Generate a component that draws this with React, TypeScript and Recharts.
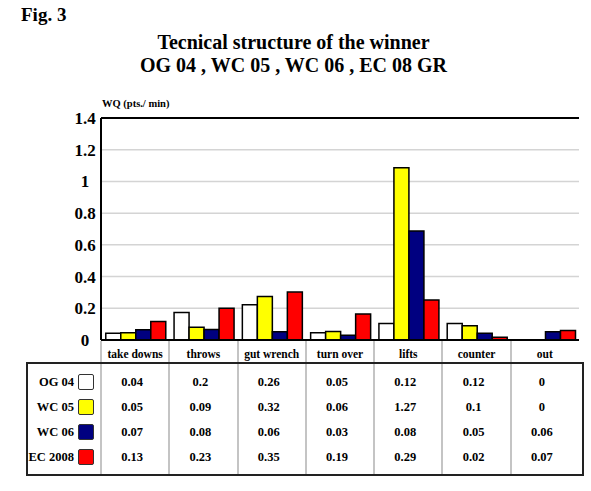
import { BarChart, Bar, XAxis, YAxis, CartesianGrid, ReferenceLine } from 'recharts';

const categories = ['take downs', 'throws', 'gut wrench', 'turn over', 'lifts', 'counter', 'out'];
const seriesNames = ['OG 04', 'WC 05', 'WC 06', 'EC 2008'];
const seriesColors = ['#ffffff', '#ffff00', '#000080', '#ff0000'];

// bar heights as drawn in the figure
const og04Bars = [0.042, 0.173, 0.223, 0.046, 0.104, 0.104, 0];
const wc05Bars = [0.046, 0.08, 0.275, 0.054, 1.087, 0.09, 0];
const wc06Bars = [0.064, 0.067, 0.052, 0.03, 0.688, 0.042, 0.052];
const ec08Bars = [0.117, 0.2, 0.302, 0.164, 0.252, 0.017, 0.06];

// values printed in the data table
const og04Table = ['0.04', '0.2', '0.26', '0.05', '0.12', '0.12', '0'];
const wc05Table = ['0.05', '0.09', '0.32', '0.06', '1.27', '0.1', '0'];
const wc06Table = ['0.07', '0.08', '0.06', '0.03', '0.08', '0.05', '0.06'];
const ec08Table = ['0.13', '0.23', '0.35', '0.19', '0.29', '0.02', '0.07'];

const yTicks = [0, 0.2, 0.4, 0.6, 0.8, 1, 1.2, 1.4];
const yTickLabels = ['0', '0.2', '0.4', '0.6', '0.8', '1', '1.2', '1.4'];

const data = categories.map((c, i) => ({
  name: c,
  og04: og04Bars[i],
  wc05: wc05Bars[i],
  wc06: wc06Bars[i],
  ec08: ec08Bars[i],
}));

const tableRows = [og04Table, wc05Table, wc06Table, ec08Table];
const seriesKeys = ['og04', 'wc05', 'wc06', 'ec08'];

const FONT = '"Liberation Serif", "Times New Roman", serif';
const PLOT_LEFT = 101;
const PLOT_RIGHT = 579;
const COL_W = (PLOT_RIGHT - PLOT_LEFT) / categories.length;

const YTick = ({ y, payload }: any) => {
  const idx = yTicks.indexOf(payload.value);
  return (
    <text x={85} y={y} dy={6} textAnchor="middle" fontSize={17} fontWeight="bold" fontFamily={FONT} fill="#000">
      {yTickLabels[idx] ?? payload.value}
    </text>
  );
};

const XTick = ({ x, y, payload }: any) => (
  <text x={x} y={y} dy={10} textAnchor="middle" fontSize={11.5} fontWeight="bold" fontFamily={FONT} fill="#000">
    {payload.value}
  </text>
);

export default function App() {
  return (
    <div style={{ position: 'absolute', left: 0, top: 0, width: 591, height: 491, background: '#fff', fontFamily: FONT }}>
      <div style={{ position: 'absolute', left: 21, top: 4, fontSize: 19, fontWeight: 'bold' }}>Fig. 3</div>
      <div style={{ position: 'absolute', left: 0, width: 591, top: 31, textAlign: 'center', fontSize: 20, fontWeight: 'bold', lineHeight: '23px', paddingLeft: 0 }}>
        <div style={{ marginLeft: -4 }}>Tecnical structure of the winner</div>
        <div style={{ marginLeft: -4 }}>OG 04 , WC 05 , WC 06 , EC 08 GR</div>
      </div>
      <div style={{ position: 'absolute', left: 102, top: 98, fontSize: 10.5, fontWeight: 'bold' }}>WQ (pts./ min)</div>

      <div style={{ position: 'absolute', left: 0, top: 0 }}>
        <BarChart
          width={591}
          height={363}
          data={data}
          margin={{ top: 118, right: 12, left: 41, bottom: 0 }}
          barCategoryGap="7%"
          barGap={0}
        >
          <CartesianGrid yAxisId="l" vertical={false} stroke="#d4d4d4" strokeWidth={1.5} />
          <XAxis
            dataKey="name"
            height={23}
            tick={<XTick />}
            tickLine={false}
            axisLine={{ stroke: '#000', strokeWidth: 2 }}
            interval={0}
          />
          <YAxis
            yAxisId="l"
            width={60}
            domain={[0, 1.4]}
            ticks={yTicks}
            tick={<YTick />}
            tickLine={false}
            axisLine={{ stroke: '#000', strokeWidth: 2 }}
            interval={0}
          />
          <YAxis yAxisId="r" orientation="right" width={0} domain={[0, 1.4]} tick={false} tickLine={false} axisLine={{ stroke: '#000', strokeWidth: 2 }} />
          <ReferenceLine yAxisId="l" y={1.4} stroke="#000" strokeWidth={2} />
          {seriesKeys.map((k, i) => (
            <Bar
              key={k}
              yAxisId="l"
              dataKey={k}
              name={seriesNames[i]}
              fill={seriesColors[i]}
              stroke="#000"
              strokeWidth={1.5}
              isAnimationActive={false}
            />
          ))}
        </BarChart>
      </div>

      {/* column separators under the axis */}
      {categories.map((c, i) => (
        <div
          key={'sep' + c}
          style={{ position: 'absolute', left: PLOT_LEFT + i * COL_W - 1, top: 341, width: 2, height: 133, background: '#c4c4c4' }}
        />
      ))}

      {/* data table frame */}
      <div style={{ position: 'absolute', left: 26, top: 362, width: 554, height: 110, border: '2px solid #222' }} />

      {seriesNames.map((s, r) => (
        <div key={s}>
          <div
            style={{ position: 'absolute', left: 20, width: 54, top: 374 + r * 25, textAlign: 'right', fontSize: 12.5, fontWeight: 'bold', lineHeight: '16px', whiteSpace: 'nowrap' }}
          >
            {s}
          </div>
          <div
            style={{ position: 'absolute', left: 78, top: 374 + r * 25, width: 14, height: 14, background: seriesColors[r], border: '1.5px solid #333', borderRadius: 2 }}
          />
          {tableRows[r].map((v, i) => (
            <div
              key={s + i}
              style={{ position: 'absolute', left: PLOT_LEFT + i * COL_W, width: COL_W - 6, top: 374 + r * 25, textAlign: 'center', fontSize: 12.5, fontWeight: 'bold', lineHeight: '16px' }}
            >
              {v}
            </div>
          ))}
        </div>
      ))}
    </div>
  );
}
